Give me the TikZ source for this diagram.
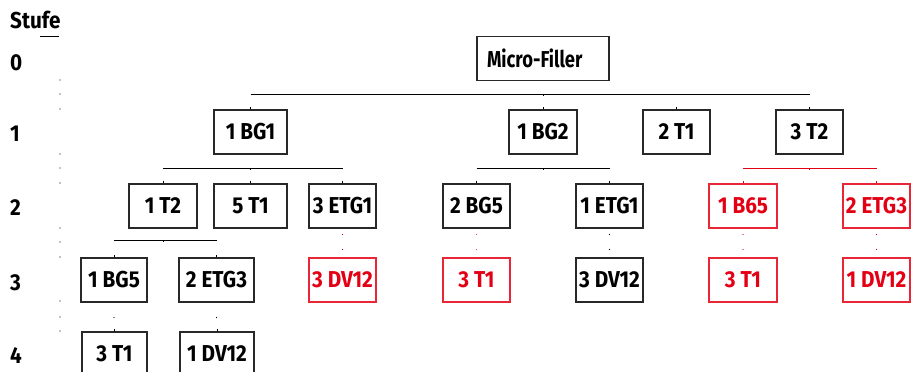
\documentclass[tikz,border=0pt]{standalone}
\usepackage{fontspec}
\usetikzlibrary{calc}
\setmainfont{Fira Sans}[FakeStretch=0.9]
\definecolor{redc}{RGB}{228,0,20}
\definecolor{boxgray}{RGB}{40,40,40}
\newcommand{\lab}{\fontsize{23}{27}\selectfont\bfseries}
\tikzset{
  bx/.style={draw=boxgray, line width=1.1pt, minimum height=44pt, inner sep=0pt, font=\lab, text=black},
  rbx/.style={bx, draw=redc!85, text=redc},
  conn/.style={line width=0.8pt, draw=black},
  rconn/.style={line width=0.8pt, draw=redc},
  lvl/.style={anchor=base west, font=\lab, inner sep=0pt},
}
\begin{document}
\begin{tikzpicture}[x=1pt,y=-1pt]
\useasboundingbox (0,0) rectangle (911,372);
% level labels
\node[lvl] (stufe) at (10,28) {Stufe};
\coordinate (ulA) at (40,36);
\coordinate (ulB) at (59,36);
\draw[line width=0.8pt] (ulA) -- (ulB);
\node[lvl] (l0) at (10,70) {0};
\node[lvl] (l1) at (10,141) {1};
\node[lvl] (l2) at (10,215) {2};
\node[lvl] (l3) at (10,290) {3};
\node[lvl] (l4) at (10,363) {4};
\foreach \yy in {80,94,109,154,168,183,228,242,257,301,317,331}
  \fill (60,\yy) circle (0.6pt);
% level 0
\node[bx, text width=112pt, inner xsep=10pt, align=left] (mf) at (543,58.5) {\addfontfeature{FakeStretch=0.8}Micro-Filler};
% level 1
\node[bx, minimum width=73pt] (bg1) at (250.5,132) {1 BG1};
\node[bx, minimum width=68pt] (bg2) at (543,132) {1 BG2};
\node[bx, minimum width=67pt] (t1a) at (676.5,132) {2 T1};
\node[bx, minimum width=67pt] (t2a) at (809.5,132) {3 T2};
% level 2
\node[bx, minimum width=68pt] (t2b) at (163,206) {1 T2};
\node[bx, minimum width=73pt] (t1b) at (250.5,206) {5 T1};
\node[bx, minimum width=67pt] (etg1a) at (342.5,206) {3 ETG1};
\node[bx, minimum width=67pt] (bg5a) at (476.5,206) {2 BG5};
\node[bx, minimum width=67pt] (etg1b) at (609.5,206) {1 ETG1};
\node[rbx, minimum width=68pt] (b65) at (743,206) {1 B65};
\node[rbx, minimum width=67pt] (etg3a) at (876.5,206) {2 ETG3};
% level 3
\node[bx, minimum width=66pt] (bg5b) at (114,280) {1 BG5};
\node[bx, minimum width=75pt] (etg3b) at (216.5,280) {2 ETG3};
\node[rbx, minimum width=67pt] (dv12a) at (342.5,280) {3 DV12};
\node[rbx, minimum width=67pt] (t1c) at (476.5,280) {3 T1};
\node[bx, minimum width=67pt] (dv12b) at (609.5,280) {3 DV12};
\node[rbx, minimum width=68pt] (t1d) at (743,280) {3 T1};
\node[rbx, minimum width=67pt] (dv12c) at (876.5,280) {1 DV12};
% level 4
\node[bx, minimum width=65pt] (t1e) at (114.5,354) {3 T1};
\node[bx, minimum width=74pt] (dv12d) at (217,354) {1 DV12};
% bars
\coordinate (b0) at (0,94);
\coordinate (b1) at (0,168);
\coordinate (b2) at (0,240);
\draw[conn] (bg1.north |- b0) -- (t2a.north |- b0);
\draw[conn] (mf.south |- b0) -- ++(0,2);
\foreach \n in {bg1,bg2,t1a,t2a} \draw[conn] (\n.north) -- ++(0,-2);
\draw[conn] (t2b.north |- b1) -- (etg1a.north |- b1);
\draw[conn] (bg1.south |- b1) -- ++(0,2);
\foreach \n in {t2b,t1b,etg1a} \draw[conn] (\n.north) -- ++(0,-2);
\draw[conn] (bg5a.north |- b1) -- (etg1b.north |- b1);
\draw[conn] (bg2.south |- b1) -- ++(0,2);
\foreach \n in {bg5a,etg1b} \draw[conn] (\n.north) -- ++(0,-2);
\draw[rconn] (b65.north |- b1) -- (etg3a.north |- b1);
\draw[rconn] (t2a.south |- b1) -- ++(0,2);
\foreach \n in {b65,etg3a} \draw[rconn] (\n.north) -- ++(0,-2);
\draw[conn] (bg5b.north |- b2) -- (etg3b.north |- b2);
\draw[conn] (t2b.south |- b2) -- ++(0,2);
\foreach \n in {bg5b,etg3b} \draw[conn] (\n.north) -- ++(0,-2);
% single-child dotted links
\foreach \p/\c/\col in {etg1a/dv12a/redc, bg5a/t1c/redc!70, etg1b/dv12b/black, b65/t1d/redc, etg3a/dv12c/redc}{
  \fill[\col] ($(\p.south)+(0,6)$) circle (0.6pt);
  \fill[\col] ($(\p.south)+(0,21)$) circle (0.6pt);
}
\foreach \p/\c in {bg5b/t1e, etg3b/dv12d}{
  \fill ($(\p.south)+(0,15)$) circle (0.6pt);
  \draw[conn] (\c.north) -- ++(0,-2);
}
\end{tikzpicture}
\end{document}
